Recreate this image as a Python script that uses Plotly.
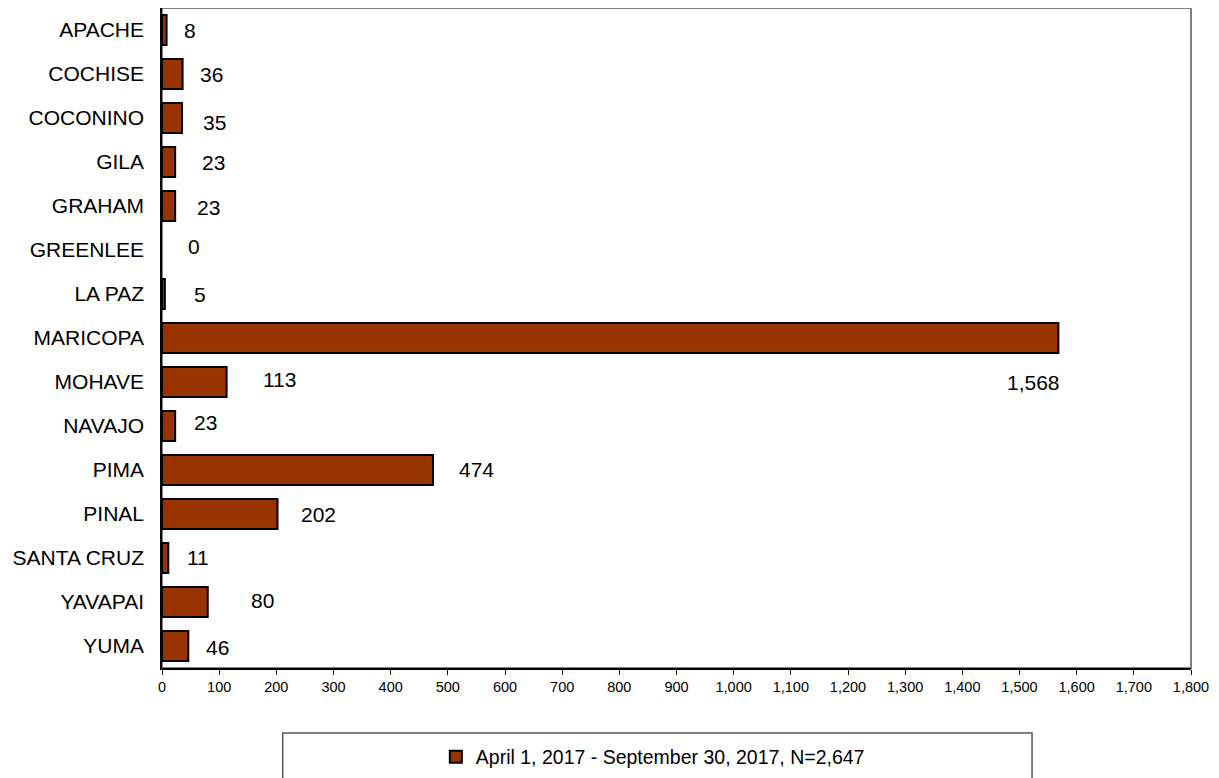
import plotly.graph_objects as go

counties = ["APACHE", "COCHISE", "COCONINO", "GILA", "GRAHAM", "GREENLEE", "LA PAZ",
            "MARICOPA", "MOHAVE", "NAVAJO", "PIMA", "PINAL", "SANTA CRUZ", "YAVAPAI", "YUMA"]
counts = [8, 36, 35, 23, 23, 0, 5, 1568, 113, 23, 474, 202, 11, 80, 46]
series_name = "April 1, 2017 - September 30, 2017, N=2,647"
x_ticks = list(range(0, 1801, 100))

# label placement offsets in pixels (styling, mimicking hand-placed Excel labels)
label_dx = [15, 15, 19, 25, 20, 24, 27, 4, 34, 17, 24, 22, 17, 41, 16]
label_dy = [0, 0, 4, 0, 1, -4, 0, 44, -3, -4, -1, 0, -1, -2, 1]

FONT = "Liberation Sans, Arial, sans-serif"

fig = go.Figure()
fig.add_trace(go.Bar(
    y=counties, x=counts, orientation="h", name=series_name,
    marker=dict(color="#993300",
                line=dict(color="#000000", width=[2 if v > 0 else 0 for v in counts])),
    hoverinfo="x+y",
))

for c, v, dx, dy in zip(counties, counts, label_dx, label_dy):
    big = v == max(counts)
    fig.add_annotation(
        x=v, y=c, xref="x", yref="y", text=f"{v:,}", showarrow=False,
        xanchor="right" if big else "left", yanchor="middle",
        xshift=dx, yshift=-dy,
        font=dict(family=FONT, size=21, color="#000000"),
    )

# plot frame (gray top/right) and legend box
fig.add_shape(type="rect", xref="paper", yref="paper", x0=0, x1=1, y0=0, y1=1,
              line=dict(color="#808080", width=2), layer="below")
fig.add_shape(type="rect", xref="paper", yref="paper", x0=0.1173, x1=0.8455,
              y0=-0.2, y1=-0.0985, line=dict(color="#555555", width=1.5))

fig.update_layout(
    width=1211, height=770,
    margin=dict(l=154, r=28, t=0, b=110),
    paper_bgcolor="white", plot_bgcolor="white",
    bargap=0.32,
    font=dict(family=FONT, color="#000000"),
    showlegend=True,
    legend=dict(x=0.477, y=-0.135, xanchor="center", yanchor="middle",
                orientation="h", bgcolor="rgba(0,0,0,0)",
                font=dict(family=FONT, size=19.5, color="#000000"),
                itemwidth=30),
    xaxis=dict(range=[0, 1800], tickvals=x_ticks, ticktext=[f"{t:,}" for t in x_ticks],
               showgrid=False, zeroline=False, showline=True, linecolor="#000000", linewidth=1.5,
               ticks="outside", ticklen=5, tickcolor="#000000", tickwidth=1,
               tickfont=dict(family=FONT, size=14.5, color="#000000")),
    yaxis=dict(autorange="reversed", showgrid=False, zeroline=False, showline=True,
               linecolor="#000000", linewidth=1.5, ticks="", ticklabelstandoff=12,
               tickfont=dict(family=FONT, size=21, color="#000000")),
)

fig.write_html("out.html")
